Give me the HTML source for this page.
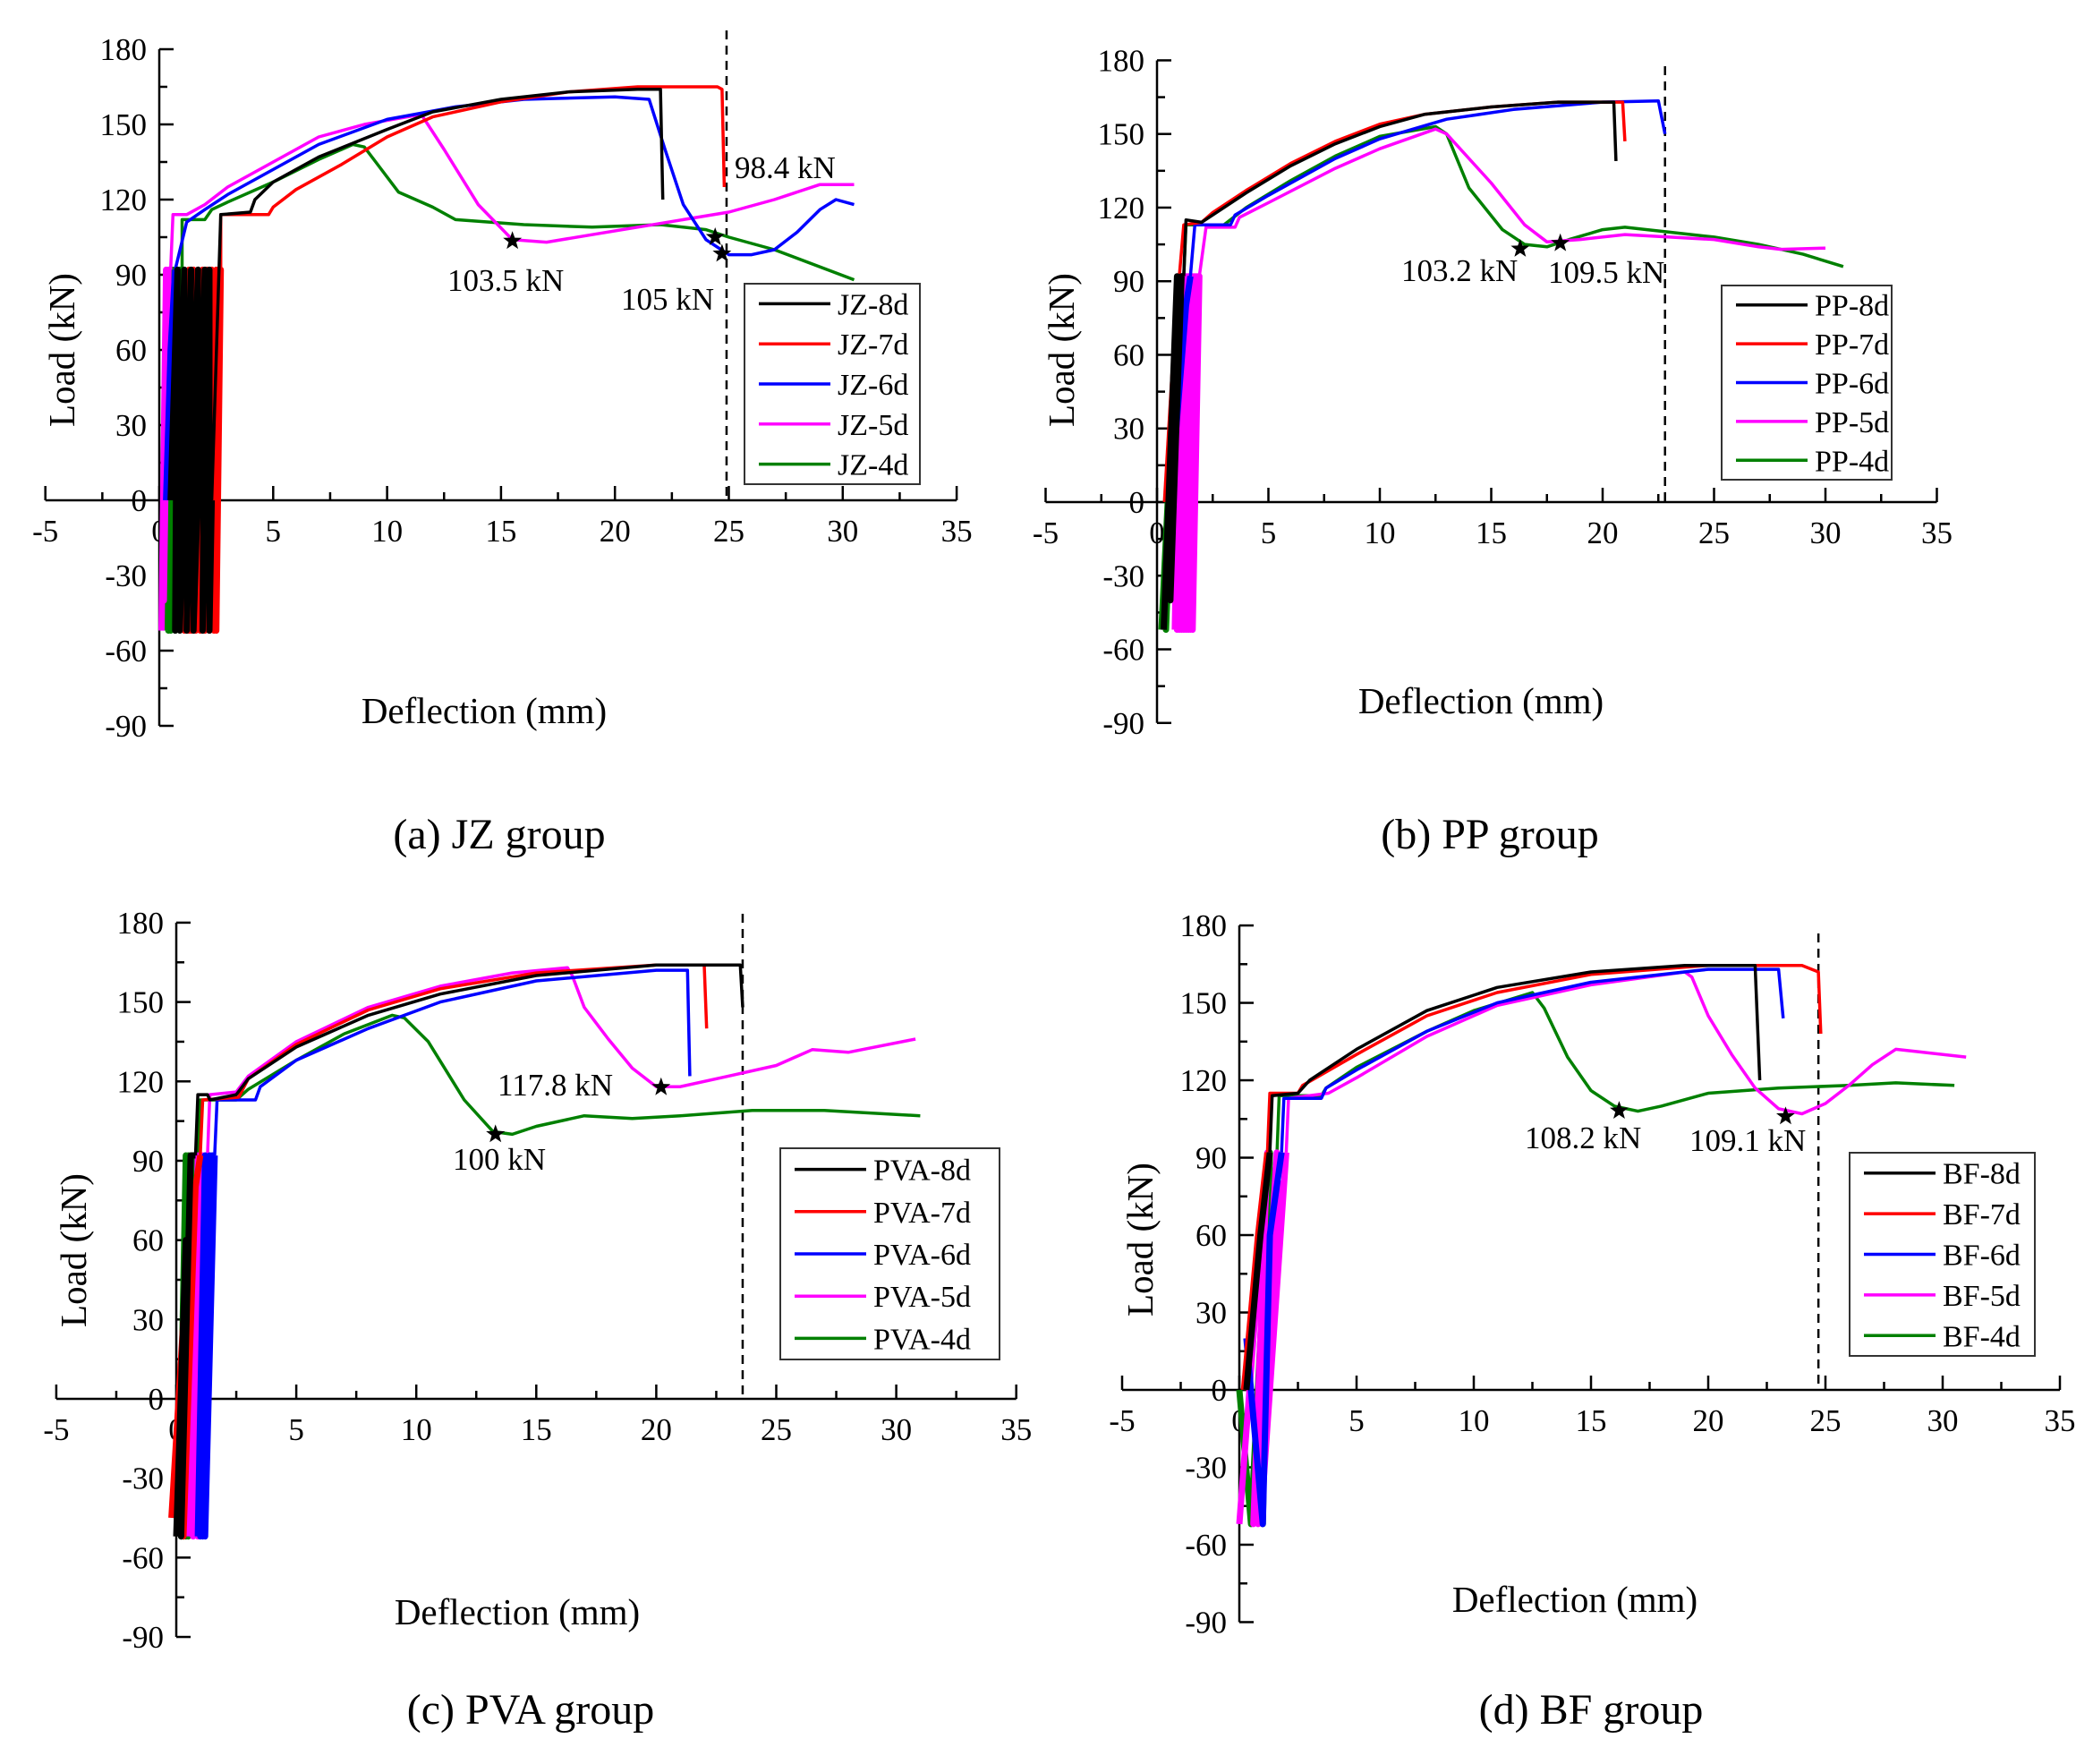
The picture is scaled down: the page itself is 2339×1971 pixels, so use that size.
<!DOCTYPE html>
<html><head><meta charset="utf-8"><style>
html,body{margin:0;padding:0;background:#fff;}
svg{display:block;font-family:"Liberation Serif",serif;}
</style></head><body>
<svg id="fig" width="2339" height="1971" viewBox="0 0 2339 1971" xmlns="http://www.w3.org/2000/svg"></svg>
<script>
// ---------- data (x = deflection mm, y = load kN) ----------
const xTicks = [-5,0,5,10,15,20,25,30,35];
const yTicks = [-90,-60,-30,0,30,60,90,120,150,180];

const jz8 = [[0.5,0],[0.8,92],[0.7,-52],[1.1,92],[0.9,-52],[1.4,92],[1.2,-52],[1.7,92],[1.5,-52],[2.0,92],[1.9,-52],[2.2,92],[2.2,-52],[2.3,0],[2.7,114],[4.0,115],[4.2,120],[5,127],[7,137],[10,148],[12,155],[15,160],[18,163],[21,164],[22,164],[22.1,120]];
const jz7 = [[1.0,0],[1.3,92],[1.1,-52],[1.5,92],[1.3,-52],[1.7,92],[1.4,-52],[1.9,92],[1.6,-52],[2.1,92],[1.8,-52],[2.3,92],[2.0,-52],[2.5,92],[2.2,-52],[2.6,92],[2.4,-52],[2.7,92],[2.5,-52],[2.7,92],[2.7,114],[4.8,114],[5,117],[6,124],[8,134],[10,145],[12,153],[15,159],[18,163],[21,165],[24.5,165],[24.7,164],[24.8,125]];
const jz6 = [[0.3,0],[0.5,60],[0.7,92],[1.2,111],[2,116],[3,122],[5,132],[7,142],[10,152],[13,157],[16,160],[20,161],[21.5,160],[22.2,140],[23,118],[24,104],[25,98],[26,98],[27,100],[28,107],[29,116],[29.7,120],[30.5,118]];
const jz5 = [[0.1,-52],[0.3,92],[0.2,-40],[0.4,92],[0.5,92],[0.6,114],[1.2,114],[2,118],[3,125],[5,135],[7,145],[9,150],[11.5,154],[12.5,140],[14,118],[15.5,104],[17,103],[19,106],[21,109],[23,112],[25,115],[27,120],[29,126],[30.5,126]];
const jz4 = [[0.3,-52],[0.6,92],[0.4,-52],[0.8,92],[0.5,-52],[0.9,92],[0.7,-52],[1.0,92],[1.0,112],[2,112],[2.3,116],[3,119],[5,127],[7,136],[8.5,142],[9,141],[9.5,135],[10.5,123],[12,117],[13,112],[16,110],[19,109],[22,110],[24,108],[25,105],[27,100],[30.5,88]];

const pp8 = [[0.3,-52],[0.9,92],[0.6,-40],[1.1,92],[1.2,92],[1.3,115],[2,114],[2.5,117],[4,126],[6,137],[8,146],[10,153],[12,158],[15,161],[18,163],[20.5,163],[20.6,139]];
const pp7 = [[0.4,0],[1.0,92],[1.2,113],[2,114],[2.5,118],[4,127],[6,138],[8,147],[10,154],[12,158],[15,161],[18,163],[20.9,163],[21,147]];
const pp6 = [[0.6,0],[1.3,80],[1.5,92],[1.7,113],[3.3,113],[3.5,117],[5,125],[8,140],[10,148],[13,156],[16,160],[20,163],[22.5,163.5],[22.8,150]];
const pp5 = [[0.8,-52],[1.1,92],[0.9,-52],[1.3,92],[1.0,-52],[1.4,92],[1.1,-52],[1.5,92],[1.2,-52],[1.6,92],[1.3,-52],[1.7,92],[1.4,-52],[1.8,92],[1.5,-52],[1.9,92],[1.6,-52],[1.9,92],[2.2,112],[3.5,112],[3.7,116],[5,122],[8,136],[10,144],[12.5,152],[13,150],[15,130],[16.5,113],[17.5,106],[19,107],[21,109],[23,108],[25,107],[27,104],[28,103],[30,103.5]];
const pp4 = [[0.2,-52],[0.7,40],[0.4,-52],[1.0,92],[1.2,92],[1.3,113],[3,113],[4,120],[6,131],[8,141],[10,149],[12.5,153],[13,150],[14,128],[15.5,111],[16.5,105],[17.5,104],[18.5,107],[20,111],[21,112],[23,110],[25,108],[27,105],[29,101],[30.8,96]];

const pva8 = [[0,-52],[0.4,60],[0.2,-52],[0.6,92],[0.8,92],[0.9,115],[1.3,115],[1.4,113],[2.5,115],[3,121],[5,133],[8,145],[11,153],[15,160],[20,164],[23.5,164],[23.6,148]];
const pva7 = [[-0.2,-45],[0.5,60],[0.3,-52],[0.8,80],[1.0,92],[1.1,113],[2.6,114],[3,121],[5,134],[8,147],[11,155],[15,161],[20,164],[22,164],[22.1,140]];
const pva6 = [[0.9,-52],[1.2,92],[1.0,-52],[1.4,92],[1.1,-52],[1.5,92],[1.2,-52],[1.6,92],[1.7,113],[3.3,113],[3.5,118],[5,128],[8,140],[11,150],[15,158],[20,162],[21.3,162],[21.4,122]];
const pva5 = [[0.5,-52],[0.9,92],[0.7,-52],[1.1,92],[0.9,-52],[1.3,92],[1.4,115],[2.5,116],[3,122],[5,135],[8,148],[11,156],[14,161],[16.3,163],[16.5,160],[17,148],[18,136],[19,125],[20,118],[21,118],[23,122],[25,126],[26.5,132],[28,131],[30.8,136]];
const pva4 = [[0.1,-52],[0.4,92],[0.2,-52],[0.5,92],[0.3,-52],[0.7,92],[0.4,-52],[0.8,92],[0.5,-52],[0.9,92],[1.0,113],[2.5,113],[3,117],[5,128],[7,138],[9,145],[9.5,144],[10.5,135],[12,113],[13.2,101],[14,100],[15,103],[17,107],[19,106],[21,107],[24,109],[27,109],[31,107]];

const bf8 = [[0.3,0],[0.9,60],[1.3,92],[1.4,114],[2.5,115],[3,120],[5,132],[8,147],[11,156],[15,162],[19,164.5],[22,164.5],[22.2,120]];
const bf7 = [[0.2,0],[0.8,60],[1.2,92],[1.3,115],[2.5,115],[2.7,118],[5,130],[8,145],[11,154],[15,161],[20,164.5],[24,164.5],[24.7,162],[24.8,138]];
const bf6 = [[0.3,20],[1.0,-52],[1.3,60],[1.8,92],[1.9,113],[3.5,113],[3.7,117],[5,124],[8,139],[11,150],[15,158],[20,163],[23,163],[23.2,144]];
const bf5 = [[0.0,-52],[1.2,92],[0.6,-52],[1.6,92],[0.8,-52],[1.8,80],[1.0,-40],[2.0,92],[2.1,113],[3.8,115],[5,121],[8,137],[11,149],[15,157],[19,162],[19.3,160],[20,145],[21,130],[22,117],[23,109],[24,107],[25,111],[26,118],[27,126],[28,132],[29,131],[31,129]];
const bf4 = [[0,0],[0.5,-52],[1.3,92],[1.0,-52],[1.0,30],[1.6,90],[1.7,114],[3.5,114],[3.7,117],[5,125],[8,139],[10,147],[12.5,154],[13,148],[14,129],[15,116],[16,110],[17,108],[18,110],[20,115],[23,117],[26,118],[28,119],[30.5,118]];

const starsA = [[15.5,103.5],[24.4,105],[24.7,98.4]];
const starsB = [[16.3,103.2],[18.1,105.5]];
const starsC = [[13.3,100],[20.2,117.8]];
const starsD = [[16.2,108.2],[23.3,106]];

const colors = ['#000000','#ff0000','#0000ff','#ff00ff','#008000'];

const panels = [
 {id:'a', group:'JZ', x0:178, kx:25.46, y0:559, ky:2.8, dash:24.9, dashTop:34,
  series:[jz8,jz7,jz6,jz5,jz4], names:['JZ-8d','JZ-7d','JZ-6d','JZ-5d','JZ-4d'],
  leg:[832,317,196,224], ylab:[69,391], xlab:[541,808], cap:[558,948], cap_t:'(a) JZ group', stars:starsA,
  notes:[['103.5 kN',500,325],['105 kN',694,346],['98.4 kN',821,199]]},
 {id:'b', group:'PP', x0:1293, kx:24.9, y0:561, ky:2.742, dash:22.8, dashTop:74,
  series:[pp8,pp7,pp6,pp5,pp4], names:['PP-8d','PP-7d','PP-6d','PP-5d','PP-4d'],
  leg:[1924,319,190,217], ylab:[1186,391], xlab:[1655,797], cap:[1665,948], cap_t:'(b) PP group', stars:starsB,
  notes:[['103.2 kN',1566,314],['109.5 kN',1730,316]]},
 {id:'c', group:'PVA', x0:197, kx:26.82, y0:1563, ky:2.956, dash:23.6, dashTop:1021,
  series:[pva8,pva7,pva6,pva5,pva4], names:['PVA-8d','PVA-7d','PVA-6d','PVA-5d','PVA-4d'],
  leg:[872,1283,245,236], ylab:[82,1397], xlab:[578,1815], cap:[593,1926], cap_t:'(c) PVA group', stars:starsC,
  notes:[['100 kN',506,1307],['117.8 kN',556,1224]]},
 {id:'d', group:'BF', x0:1385, kx:26.2, y0:1553, ky:2.883, dash:24.7, dashTop:1043,
  series:[bf8,bf7,bf6,bf5,bf4], names:['BF-8d','BF-7d','BF-6d','BF-5d','BF-4d'],
  leg:[2067,1288,207,227], ylab:[1274,1385], xlab:[1760,1801], cap:[1778,1926], cap_t:'(d) BF group', stars:starsD,
  notes:[['108.2 kN',1704,1283],['109.1 kN',1888,1286]]}
];

const NS='http://www.w3.org/2000/svg';
const svg=document.getElementById('fig');
function mk(tag,attrs,parent){const e=document.createElementNS(NS,tag);for(const k in attrs)e.setAttribute(k,attrs[k]);(parent||svg).appendChild(e);return e;}

panels.forEach(p=>{
  const X=v=>p.x0+v*p.kx, Y=v=>p.y0-v*p.ky;
  const g=mk('g',{});
  
  
  const xa=mk('line',{x1:X(-5),y1:p.y0,x2:X(35),y2:p.y0,stroke:'#000','stroke-width':2.5},g);
  
  
  const ya=mk('line',{x1:X(0),y1:Y(180),x2:X(0),y2:Y(-90),stroke:'#000','stroke-width':2.5},g);
  
  
  for(let v=-5;v<=35;v+=2.5){
    const major=(v%5===0);
    mk('line',{x1:X(v),y1:p.y0,x2:X(v),y2:p.y0-(major?16:9),stroke:'#000','stroke-width':2.5},g);
  }
  xTicks.forEach(v=>{
    const t=mk('text',{x:X(v),y:p.y0+46,'font-size':35,'text-anchor':'middle',fill:'#000'},g);
    t.textContent=String(v);
    
    
  });
  for(let v=-90;v<=180;v+=15){
    const major=(v%30===0);
    mk('line',{x1:X(0),y1:Y(v),x2:X(0)+(major?16:9),y2:Y(v),stroke:'#000','stroke-width':2.5},g);
  }
  yTicks.forEach(v=>{
    const t=mk('text',{x:X(0)-14,y:Y(v)+12,'font-size':35,'text-anchor':'end',fill:'#000'},g);
    t.textContent=String(v);
    
    
  });
  const yl=mk('text',{x:p.ylab[0],y:p.ylab[1],'font-size':41,'text-anchor':'middle',transform:`rotate(-90 ${p.ylab[0]} ${p.ylab[1]})`,dy:14},g);
  yl.textContent='Load (kN)';
  
  
  const xl=mk('text',{x:p.xlab[0],y:p.xlab[1],'font-size':41,'text-anchor':'middle'},g);
  xl.textContent='Deflection (mm)';
  
  
  const cp=mk('text',{x:p.cap[0],y:p.cap[1],'font-size':48,'text-anchor':'middle'},g);
  cp.textContent=p.cap_t;
  
  
  const dl=mk('line',{x1:X(p.dash),y1:p.dashTop,x2:X(p.dash),y2:p.y0,stroke:'#000','stroke-width':2.5,'stroke-dasharray':'10,7'},g);
  
  
  for(let i=p.series.length-1;i>=0;i--){
    const s=p.series[i];
    let cut=s.findIndex(q=>q[1]>92);
    if(cut<0) cut=s.length;
    const cyc=s.slice(0,cut);
    const main=s.slice(Math.max(cut-1,0));
    if(cyc.length>1){
      const c=mk('polyline',{points:cyc.map(q=>X(q[0]).toFixed(1)+','+Y(q[1]).toFixed(1)).join(' '),fill:'none',stroke:colors[i],'stroke-width':7,'stroke-linejoin':'round'},g);
      
      
    }
    const pl=mk('polyline',{points:main.map(q=>X(q[0]).toFixed(1)+','+Y(q[1]).toFixed(1)).join(' '),fill:'none',stroke:colors[i],'stroke-width':3.5,'stroke-linejoin':'round'},g);
    
    
  }
  p.stars.forEach(s=>{
    const cx=X(s[0]),cy=Y(s[1]),R=11,r=4.5;let d='';
    for(let k=0;k<10;k++){const a=-Math.PI/2+k*Math.PI/5;const rr=k%2?r:R;d+=(cx+rr*Math.cos(a)).toFixed(1)+','+(cy+rr*Math.sin(a)).toFixed(1)+' ';}
    const st=mk('polygon',{points:d,fill:'#000'},g);
    
    
  });
  p.notes.forEach(n=>{
    const t=mk('text',{x:n[1],y:n[2],'font-size':35},g);
    t.textContent=n[0];
    
    
  });
  const [lx,ly,lw,lh]=p.leg;
  const lg=mk('g',{},g);
  
  
  mk('rect',{x:lx,y:ly,width:lw,height:lh,fill:'#fff',stroke:'#333','stroke-width':2},lg);
  const rowH=lh/5;
  p.names.forEach((nm,i)=>{
    const cy=ly+rowH*(i+0.5);
    const e=mk('g',{},lg);
    
    
    mk('line',{x1:lx+16,y1:cy,x2:lx+96,y2:cy,stroke:colors[i],'stroke-width':3.5},e);
    const t=mk('text',{x:lx+104,y:cy+12,'font-size':34},e);
    t.textContent=nm;
  });
});
</script>
</body></html>
